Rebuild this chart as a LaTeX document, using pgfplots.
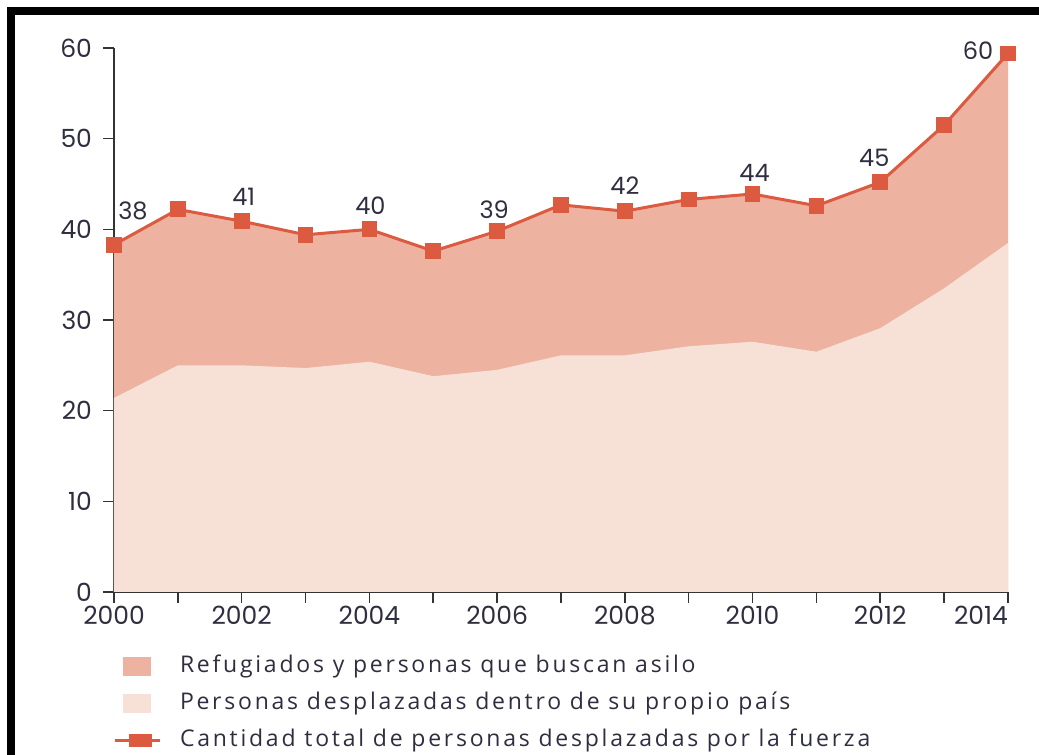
\documentclass[border=0pt]{standalone}
\usepackage{pgfplots}
\pgfplotsset{compat=1.18}
\usepackage{pgfplotstable}
\usepackage{fontspec}
\setmainfont{Open Sans}[LetterSpace=12]
\newfontfamily\tickfont{Poppins}
\definecolor{lineC}{HTML}{DC5A40}
\definecolor{upC}{HTML}{EDB3A0}
\definecolor{lowC}{HTML}{F7E0D6}
\definecolor{txtC}{HTML}{2E2E40}
\definecolor{axC}{HTML}{333333}

\pgfplotstableread{
x    y
2000 38.3
2001 42.2
2002 40.9
2003 39.4
2004 40.0
2005 37.6
2006 39.8
2007 42.7
2008 42.0
2009 43.3
2010 43.9
2011 42.6
2012 45.2
2013 51.5
2014 59.4
}\total

\pgfplotstableread{
x    y
2000 21.4
2001 25.0
2002 25.0
2003 24.7
2004 25.4
2005 23.8
2006 24.5
2007 26.1
2008 26.1
2009 27.1
2010 27.6
2011 26.5
2012 29.1
2013 33.5
2014 38.5
}\idp

\pgfplotstableread{
x    y    lab dx   dy
2000 38.3 38  9.5  17
2002 40.9 41  1    12
2004 40.0 40  0.5  12
2006 39.8 39  -1.5 10.5
2008 42.0 42  0    13
2010 43.9 44  1    10.5
2012 45.2 45  -3   12
2014 59.4 60  -15  1.5
}\labels

\begin{document}
\begin{tikzpicture}
\path[use as bounding box] (0pt,0pt) rectangle (519.5pt,377.5pt);
\fill[black] (3.5pt,370pt) rectangle (519.5pt,374pt);
\fill[black] (3.5pt,0pt) rectangle (7.5pt,374pt);
\begin{axis}[
  at={(57pt,81.5pt)}, anchor=south west,
  scale only axis, width=447pt, height=272pt,
  xmin=2000, xmax=2014, ymin=0, ymax=60,
  clip=false,
  axis x line*=bottom, axis y line*=left,
  axis line style={axC, line width=0.8pt},
  tick style={axC, line width=0.8pt},
  tick align=outside,
  major tick length=5.5pt,
  xtick={2000,...,2014},
  xticklabels={2000,,2002,,2004,,2006,,2008,,2010,,2012,,{2014\hphantom{2014}}},
  ytick={0,10,...,60},
  ticklabel style={font=\tickfont\fontsize{12.5}{13}\selectfont, text=txtC},
  /pgf/number format/assume math mode=true,
  xticklabel style={yshift=2pt},
  yticklabel style={xshift=-2pt},
  legend cell align=left,
  legend style={at={(axis description cs:-0.001,-0.114)}, anchor=north west,
    draw=none, fill=none, inner sep=0pt, row sep=6.5pt,
    font=\fontsize{11.5}{12}\selectfont, text=txtC,
    nodes={inner sep=0pt, text height=9pt, text depth=3pt}},
]
\addplot[fill=upC, draw=none,
  legend image code/.code={\fill[upC] (4pt,-4.75pt) rectangle (18pt,4.75pt); \path[draw=none,fill=none] (0pt,0pt) -- (32.5pt,0pt);}]
  table[x=x,y=y] {\total} \closedcycle;
\addlegendentry{Refugiados y personas que buscan asilo}
\addplot[fill=lowC, draw=none,
  legend image code/.code={\fill[lowC] (4pt,-4.75pt) rectangle (18pt,4.75pt); \path[draw=none,fill=none] (0pt,0pt) -- (32.5pt,0pt);}]
  table[x=x,y=y] {\idp} \closedcycle;
\addlegendentry{Personas desplazadas dentro de su propio país}
\addplot[lineC, line width=1.5pt, mark=square*, mark size=3.2pt,
  mark options={fill=lineC, draw=none},
  legend image code/.code={\draw[lineC, line width=1.5pt] (0pt,0pt) -- (22.5pt,0pt);
     \fill[lineC] (7.5pt,-2.5pt) rectangle (17.5pt,2.5pt); \path[draw=none,fill=none] (0pt,0pt) -- (32.5pt,0pt);}]
  table[x=x,y=y] {\total};
\addlegendentry{Cantidad total de personas desplazadas por la fuerza}
\addplot[draw=none, mark=none, forget plot,
  nodes near coords, point meta=explicit symbolic,
  visualization depends on={\thisrow{dx} \as \dx},
  visualization depends on={\thisrow{dy} \as \dy},
  every node near coord/.style={anchor=center, xshift=\dx pt, yshift=\dy pt,
    font=\tickfont\fontsize{12}{13}\selectfont, text=txtC}]
  table[x=x,y=y,meta=lab] {\labels};
\end{axis}
\end{tikzpicture}
\end{document}
